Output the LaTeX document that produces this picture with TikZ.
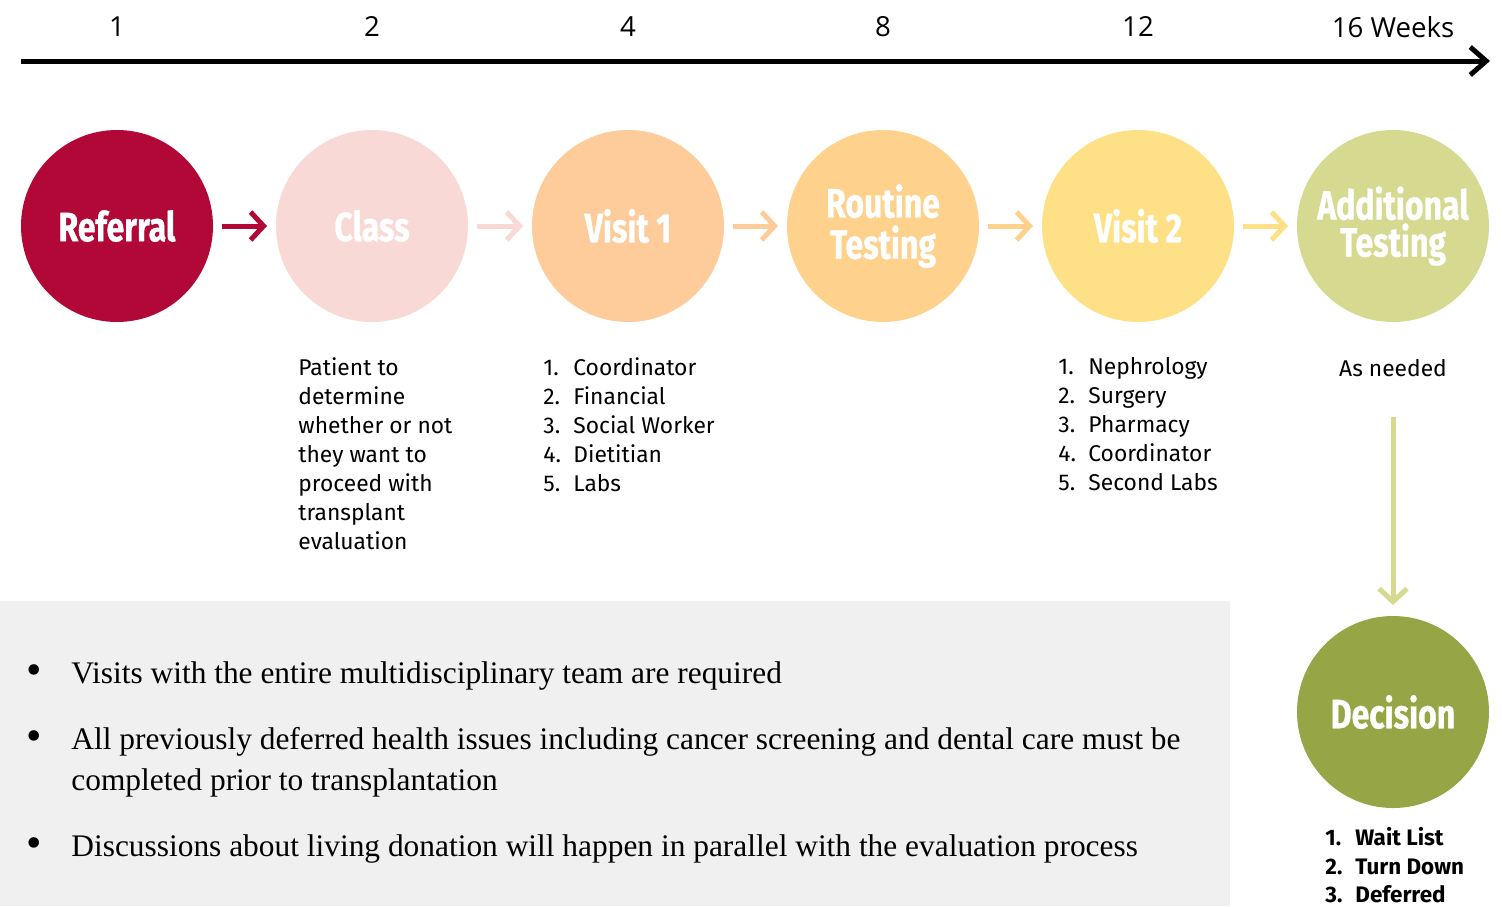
\documentclass[tikz,border=0pt]{standalone}
\usepackage{fontspec}
\usetikzlibrary{arrows.meta}
\setmainfont{Liberation Serif}
\newfontfamily\firafont{Fira Sans}
\newfontfamily\condfont[FakeStretch=0.8, BoldFeatures={FakeStretch=0.78, FakeBold=0.8}]{Fira Sans}
\newfontfamily\opensansfont{Open Sans}
\definecolor{cref}{HTML}{B20838}
\definecolor{cclass}{HTML}{F8D9D6}
\definecolor{cvisita}{HTML}{FDCC9A}
\definecolor{croutine}{HTML}{FED28C}
\definecolor{cvisitb}{HTML}{FEE086}
\definecolor{caddl}{HTML}{D5DA90}
\definecolor{cdec}{HTML}{96A546}
\definecolor{cgray}{HTML}{F0F0F0}
\newcommand\nb[1]{\makebox[15pt][l]{#1}}
\tikzset{
  stage/.style={circle, minimum size=96pt, inner sep=0pt, outer sep=0pt, text=white,
    font=\condfont\bfseries\fontsize{20.5}{18.5}\selectfont, align=center},
  flow/.style={line width=2.5pt, -{Straight Barb[length=6.5pt,width=14pt]}, shorten <=4.5pt, shorten >=4.5pt},
  tlabel/.style={font=\opensansfont\fontsize{13.8}{14}\selectfont, inner sep=0pt},
  info/.style={font=\firafont\fontsize{11.4}{14.5}\selectfont, align=left, inner sep=0pt, anchor=north west},
  bullettext/.style={font=\fontsize{15.7}{20.5}\selectfont, align=left, inner sep=0pt, anchor=base west},
  bulletdot/.style={font=\fontsize{22}{22}\selectfont, inner sep=0pt, anchor=base}
}
\begin{document}
\begin{tikzpicture}[x=0.5pt,y=-0.5pt]
\useasboundingbox (0,0) rectangle (1502,906);
\fill[cgray] (0,601) rectangle (1230,906);
% timeline
\coordinate (tls) at (21,61);
\coordinate (tle) at (1490,61);
\draw[line width=2.5pt, -{Straight Barb[length=8pt,width=14pt]}] (tls) -- (tle);
\node[tlabel] (w1) at (117,27) {1};
\node[tlabel] (w2) at (372,27) {2};
\node[tlabel] (w4) at (628,27) {4};
\node[tlabel] (w8) at (883,27) {8};
\node[tlabel] (w12) at (1138,27) {12};
\node[tlabel] (w16) at (1393,27) {16 Weeks};
% stages
\node[stage, fill=cref] (ref) at (117,226) {Referral};
\node[stage, fill=cclass] (cls) at (372,226) {Class};
\node[stage, fill=cvisita] (v1) at (628,226) {Visit 1};
\node[stage, fill=croutine] (rt) at (883,226) {\raisebox{-3pt}{}Routine\\Testing};
\node[stage, fill=cvisitb] (v2) at (1138,226) {Visit 2};
\node[stage, fill=caddl] (at) at (1393,226) {Additional\\Testing};
\node[stage, fill=cdec] (dec) at (1393,712) {Decision};
\draw[flow, cref] (ref) -- (cls);
\draw[flow, cclass] (cls) -- (v1);
\draw[flow, cvisita] (v1) -- (rt);
\draw[flow, croutine] (rt) -- (v2);
\draw[flow, cvisitb] (v2) -- (at);
% info texts
\node[info] (clstext) at (298,357) {Patient to\\determine\\whether or not\\they want to\\proceed with\\transplant\\evaluation};
\node[info] (v1text) at (543,357) {\nb{1.}Coordinator\\\nb{2.}Financial\\\nb{3.}Social Worker\\\nb{4.}Dietitian\\\nb{5.}Labs};
\node[info] (v2text) at (1058,357) {\nb{1.}Nephrology\\\nb{2.}Surgery\\\nb{3.}Pharmacy\\\nb{4.}Coordinator\\\nb{5.}Second Labs};
\node[info, anchor=base] (asn) at (1393,376) {As needed};
\draw[flow, caddl, shorten <=20pt, shorten >=5.5pt] (asn) -- (dec);
\node[info, font=\firafont\bfseries\fontsize{11.2}{14.3}\selectfont] (dectext) at (1325,827) {\nb{1.}Wait List\\\nb{2.}Turn Down\\\nb{3.}Deferred};
% bullets
\node[bulletdot] (b1) at (34,684) {\textbullet};
\node[bullettext] (t1) at (71,683) {Visits with the entire multidisciplinary team are required};
\node[bulletdot] (b2) at (34,750) {\textbullet};
\node[bullettext] (t2) at (71,790) {All previously deferred health issues including cancer screening and dental care must be\\completed prior to transplantation};
\node[bulletdot] (b3) at (34,857) {\textbullet};
\node[bullettext] (t3) at (71,856) {Discussions about living donation will happen in parallel with the evaluation process};
\end{tikzpicture}
\end{document}
